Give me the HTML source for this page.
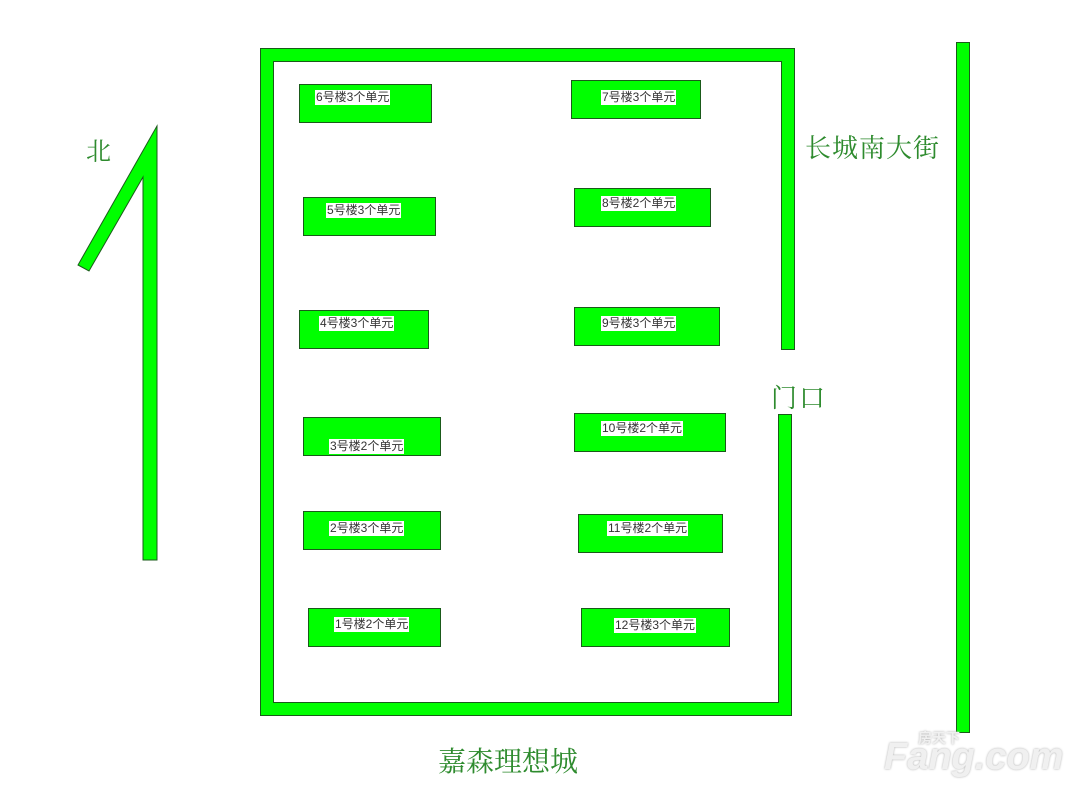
<!DOCTYPE html>
<html><head><meta charset="utf-8"><style>
body{margin:0;width:1080px;height:798px;background:#fff;position:relative;overflow:hidden;font-family:"Liberation Sans","Noto Sans CJK SC",sans-serif}
.g{position:absolute;background:#00ff00;box-sizing:border-box}
.b{position:absolute;background:#00ff00;border:1px solid #1a5a1a;box-sizing:border-box}
.l{position:absolute;background:#fff;color:#333;font-size:12px;line-height:15px;padding:0 1px;white-space:nowrap}
.t{position:absolute;color:#2e8b2e;white-space:nowrap;font-family:"Noto Serif CJK SC","Noto Sans CJK SC",sans-serif}
</style></head><body>
<svg style="position:absolute;left:0;top:0" width="1080" height="798">
<polygon points="260.5,48.5 794.5,48.5 794.5,349.5 781.5,349.5 781.5,61.5 273.5,61.5 273.5,702.5 778.5,702.5 778.5,414.5 791.5,414.5 791.5,715.5 260.5,715.5" fill="#00ff00" stroke="#1a5a1a" stroke-width="1"/>
<polygon points="143,560 157,560 157,126 78,265 89,271 143,177" fill="#00ff00" stroke="#1a5a1a" stroke-width="1"/>
</svg>
<div class="b" style="left:956px;top:42px;width:14px;height:691px"></div>
<div class="b" style="left:299px;top:84px;width:133px;height:39px"></div><div class="l" style="left:315px;top:90px">6号楼3个单元</div>
<div class="b" style="left:571px;top:80px;width:130px;height:39px"></div><div class="l" style="left:601px;top:90px">7号楼3个单元</div>
<div class="b" style="left:303px;top:197px;width:133px;height:39px"></div><div class="l" style="left:326px;top:203px">5号楼3个单元</div>
<div class="b" style="left:574px;top:188px;width:137px;height:39px"></div><div class="l" style="left:601px;top:196px">8号楼2个单元</div>
<div class="b" style="left:299px;top:310px;width:130px;height:39px"></div><div class="l" style="left:319px;top:316px">4号楼3个单元</div>
<div class="b" style="left:574px;top:307px;width:146px;height:39px"></div><div class="l" style="left:601px;top:316px">9号楼3个单元</div>
<div class="b" style="left:303px;top:417px;width:138px;height:39px"></div><div class="l" style="left:329px;top:439px">3号楼2个单元</div>
<div class="b" style="left:574px;top:413px;width:152px;height:39px"></div><div class="l" style="left:601px;top:421px">10号楼2个单元</div>
<div class="b" style="left:303px;top:511px;width:138px;height:39px"></div><div class="l" style="left:329px;top:521px">2号楼3个单元</div>
<div class="b" style="left:578px;top:514px;width:145px;height:39px"></div><div class="l" style="left:607px;top:521px">11号楼2个单元</div>
<div class="b" style="left:308px;top:608px;width:133px;height:39px"></div><div class="l" style="left:334px;top:617px">1号楼2个单元</div>
<div class="b" style="left:581px;top:608px;width:149px;height:39px"></div><div class="l" style="left:614px;top:618px">12号楼3个单元</div>
<div class="t" style="left:86px;top:132px;font-size:25px">北</div>
<div class="t" style="left:805px;top:128px;font-size:26px;letter-spacing:1px">长城南大街</div>
<div class="t" style="left:771px;top:378px;font-size:26px;letter-spacing:2px">门口</div>
<div class="t" style="left:438px;top:740px;font-size:28px">嘉森理想城</div>
<div style="position:absolute;left:884px;top:736px;font-size:38px;font-weight:bold;font-style:italic;color:#f0f0f0;text-shadow:0 0 2px #aaa;font-family:'Liberation Sans',sans-serif">Fang.com</div>
<div style="position:absolute;left:918px;top:728px;font-size:14px;font-weight:bold;color:#f0f0f0;text-shadow:0 0 2px #aaa;font-family:'Noto Sans CJK SC',sans-serif">房天下</div>
</body></html>
